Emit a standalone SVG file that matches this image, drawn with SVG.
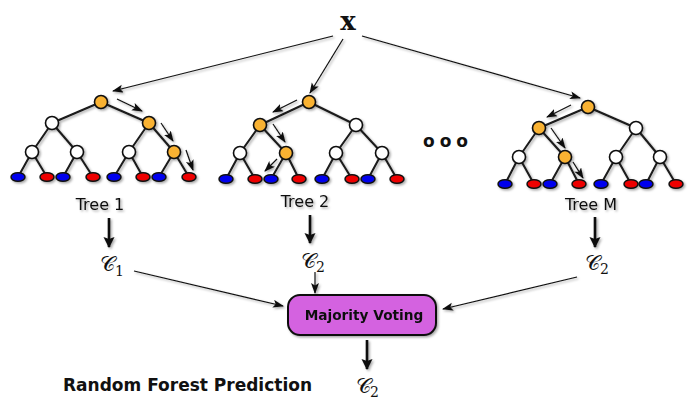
<svg xmlns="http://www.w3.org/2000/svg" width="695" height="405" viewBox="0 0 695 405">
<style>
.e{stroke:#1a1a1a;stroke-width:2;fill:none}
.n{stroke:#111;stroke-width:1.6;fill:#fff}
.o{fill:#f9b233}
.b{fill:#0000ee;stroke:#111;stroke-width:1.5}
.r{fill:#ee0000;stroke:#111;stroke-width:1.5}
.a{stroke:#111;stroke-width:1.2;fill:none;marker-end:url(#ah)}
.t{stroke:#111;stroke-width:2.6;fill:none;marker-end:url(#th)}
.lbl{font-family:"DejaVu Sans",sans-serif;font-size:16px;text-anchor:middle;fill:#111}
.cal{font-family:"DejaVu Serif","DejaVu Sans",serif;font-size:21px;fill:#111}
.sub{font-family:"DejaVu Serif","Liberation Serif",serif;font-size:14px;fill:#111}
</style>
<defs>
<marker id="ah" markerUnits="userSpaceOnUse" markerWidth="12" markerHeight="10" refX="10" refY="4" orient="auto">
<path d="M0,0 L11,4 L0,8 L2.5,4 z" fill="#111"/>
</marker>
<marker id="th" markerUnits="userSpaceOnUse" markerWidth="12" markerHeight="14" refX="10" refY="5.5" orient="auto">
<path d="M0,0 L11,5.5 L0,11 L2,5.5 z" fill="#111"/>
</marker>
<filter id="sh" x="-10%" y="-10%" width="130%" height="130%">
<feDropShadow dx="1.5" dy="1.5" stdDeviation="1.3" flood-color="#000" flood-opacity="0.35"/>
</filter>
</defs>
<rect width="695" height="405" fill="#fff"/>

<g id="x-input">
<text x="348" y="30" font-family="DejaVu Serif,serif" font-weight="bold" font-size="26" text-anchor="middle" fill="#111">x</text>
</g>

<g id="tree1" filter="url(#sh)">
<path class="e" d="M101,102 L52,123 M101,102 L149,123 M52,123 L32,152 M52,123 L77,152 M149,123 L129,152 M149,123 L174,152 M32,152 L18,177 M32,152 L47,177 M77,152 L63,177 M77,152 L93,177 M129,152 L114,177 M129,152 L143,177 M174,152 L159,177 M174,152 L189,177"/>
<circle class="n o" cx="101" cy="102" r="6.5"/>
<circle class="n" cx="52" cy="123" r="6.5"/>
<circle class="n o" cx="149" cy="123" r="6.5"/>
<circle class="n" cx="32" cy="152" r="6.5"/>
<circle class="n" cx="77" cy="152" r="6.5"/>
<circle class="n" cx="129" cy="152" r="6.5"/>
<circle class="n o" cx="174" cy="152" r="6.5"/>
<ellipse class="b" cx="18" cy="177" rx="7" ry="4.3"/>
<ellipse class="r" cx="47" cy="177" rx="7" ry="4.3"/>
<ellipse class="b" cx="63" cy="177" rx="7" ry="4.3"/>
<ellipse class="r" cx="93" cy="177" rx="7" ry="4.3"/>
<ellipse class="b" cx="114" cy="177" rx="7" ry="4.3"/>
<ellipse class="r" cx="143" cy="177" rx="7" ry="4.3"/>
<ellipse class="b" cx="159" cy="177" rx="7" ry="4.3"/>
<ellipse class="r" cx="189" cy="177" rx="7" ry="4.3"/>
<text class="lbl" x="100" y="210">Tree 1</text>
</g>

<g id="tree2" filter="url(#sh)">
<path class="e" d="M309,102 L260,125 M309,102 L356,125 M260,125 L240,153 M260,125 L286,153 M356,125 L336,153 M356,125 L382,153 M240,153 L226,179 M240,153 L255,179 M286,153 L271,179 M286,153 L299,179 M336,153 L322,179 M336,153 L352,179 M382,153 L368,179 M382,153 L397,179"/>
<circle class="n o" cx="309" cy="102" r="6.5"/>
<circle class="n o" cx="260" cy="125" r="6.5"/>
<circle class="n" cx="356" cy="125" r="6.5"/>
<circle class="n" cx="240" cy="153" r="6.5"/>
<circle class="n o" cx="286" cy="153" r="6.5"/>
<circle class="n" cx="336" cy="153" r="6.5"/>
<circle class="n" cx="382" cy="153" r="6.5"/>
<ellipse class="b" cx="226" cy="179" rx="7" ry="4.3"/>
<ellipse class="r" cx="255" cy="179" rx="7" ry="4.3"/>
<ellipse class="b" cx="271" cy="179" rx="7" ry="4.3"/>
<ellipse class="r" cx="299" cy="179" rx="7" ry="4.3"/>
<ellipse class="b" cx="322" cy="179" rx="7" ry="4.3"/>
<ellipse class="r" cx="352" cy="179" rx="7" ry="4.3"/>
<ellipse class="b" cx="368" cy="179" rx="7" ry="4.3"/>
<ellipse class="r" cx="397" cy="179" rx="7" ry="4.3"/>
<text class="lbl" x="305" y="207">Tree 2</text>
</g>

<g id="dots">
<text x="448" y="147" font-family="DejaVu Sans,sans-serif" font-weight="900" font-size="17" text-anchor="middle" letter-spacing="5" fill="#111">ooo</text>
</g>

<g id="treeM" filter="url(#sh)">
<path class="e" d="M588,107 L539,128 M588,107 L636,128 M539,128 L519,157 M539,128 L565,157 M636,128 L616,157 M636,128 L660,157 M519,157 L505,184 M519,157 L534,184 M565,157 L550,184 M565,157 L579,184 M616,157 L601,184 M616,157 L631,184 M660,157 L646,184 M660,157 L676,184"/>
<circle class="n o" cx="588" cy="107" r="6.5"/>
<circle class="n o" cx="539" cy="128" r="6.5"/>
<circle class="n" cx="636" cy="128" r="6.5"/>
<circle class="n" cx="519" cy="157" r="6.5"/>
<circle class="n o" cx="565" cy="157" r="6.5"/>
<circle class="n" cx="616" cy="157" r="6.5"/>
<circle class="n" cx="660" cy="157" r="6.5"/>
<ellipse class="b" cx="505" cy="184" rx="7" ry="4.3"/>
<ellipse class="r" cx="534" cy="184" rx="7" ry="4.3"/>
<ellipse class="b" cx="550" cy="184" rx="7" ry="4.3"/>
<ellipse class="r" cx="579" cy="184" rx="7" ry="4.3"/>
<ellipse class="b" cx="601" cy="184" rx="7" ry="4.3"/>
<ellipse class="r" cx="631" cy="184" rx="7" ry="4.3"/>
<ellipse class="b" cx="646" cy="184" rx="7" ry="4.3"/>
<ellipse class="r" cx="676" cy="184" rx="7" ry="4.3"/>
<text class="lbl" x="591" y="210">Tree M</text>
</g>

<g id="c1"><text class="cal" x="100" y="271">𝒞</text><text class="sub" x="115" y="276">1</text></g>
<g id="c2a"><text class="cal" x="301" y="268">𝒞</text><text class="sub" x="316" y="272">2</text></g>
<g id="c2m"><text class="cal" x="585" y="270">𝒞</text><text class="sub" x="600" y="274">2</text></g>
<g id="c2out"><text class="cal" x="356" y="393">𝒞</text><text class="sub" x="370" y="397">2</text></g>

<g id="vote" filter="url(#sh)">
<rect x="288" y="295" width="148" height="40" rx="12" fill="#d462e0" stroke="#111" stroke-width="2"/>
<text x="364" y="320" font-family="DejaVu Sans,sans-serif" font-weight="bold" font-size="13.7" text-anchor="middle" fill="#111">Majority Voting</text>
</g>

<g id="title">
<text x="63" y="391" font-family="DejaVu Sans,sans-serif" font-weight="bold" font-size="17" fill="#111">Random Forest Prediction</text>
</g>

<g id="connectors" filter="url(#sh)">
<path class="a" d="M333,36 L113,91"/>
<path class="a" d="M343,39 L310,93"/>
<path class="a" d="M362,36 L580,98"/>
<path class="a" d="M117,99 L142,111"/>
<path class="a" d="M161,123 L173,141"/>
<path class="a" d="M186,150 L193,170"/>
<path class="a" d="M297,100 L273,112"/>
<path class="a" d="M273,124 L285,142"/>
<path class="a" d="M277,159 L265,171"/>
<path class="a" d="M571,105 L547,117"/>
<path class="a" d="M551,128 L565,148"/>
<path class="a" d="M573,162 L583,178"/>
<path class="t" d="M109,218 L109,247"/>
<path class="t" d="M310,215 L310,243"/>
<path class="t" d="M595,217 L595,247"/>
<path class="t" d="M367,340 L367,369"/>
<path class="a" d="M134,271 L283,306"/>
<path class="a" d="M315,272 L315,293"/>
<path class="a" d="M577,277 L443,309"/>
</g>
</svg>
